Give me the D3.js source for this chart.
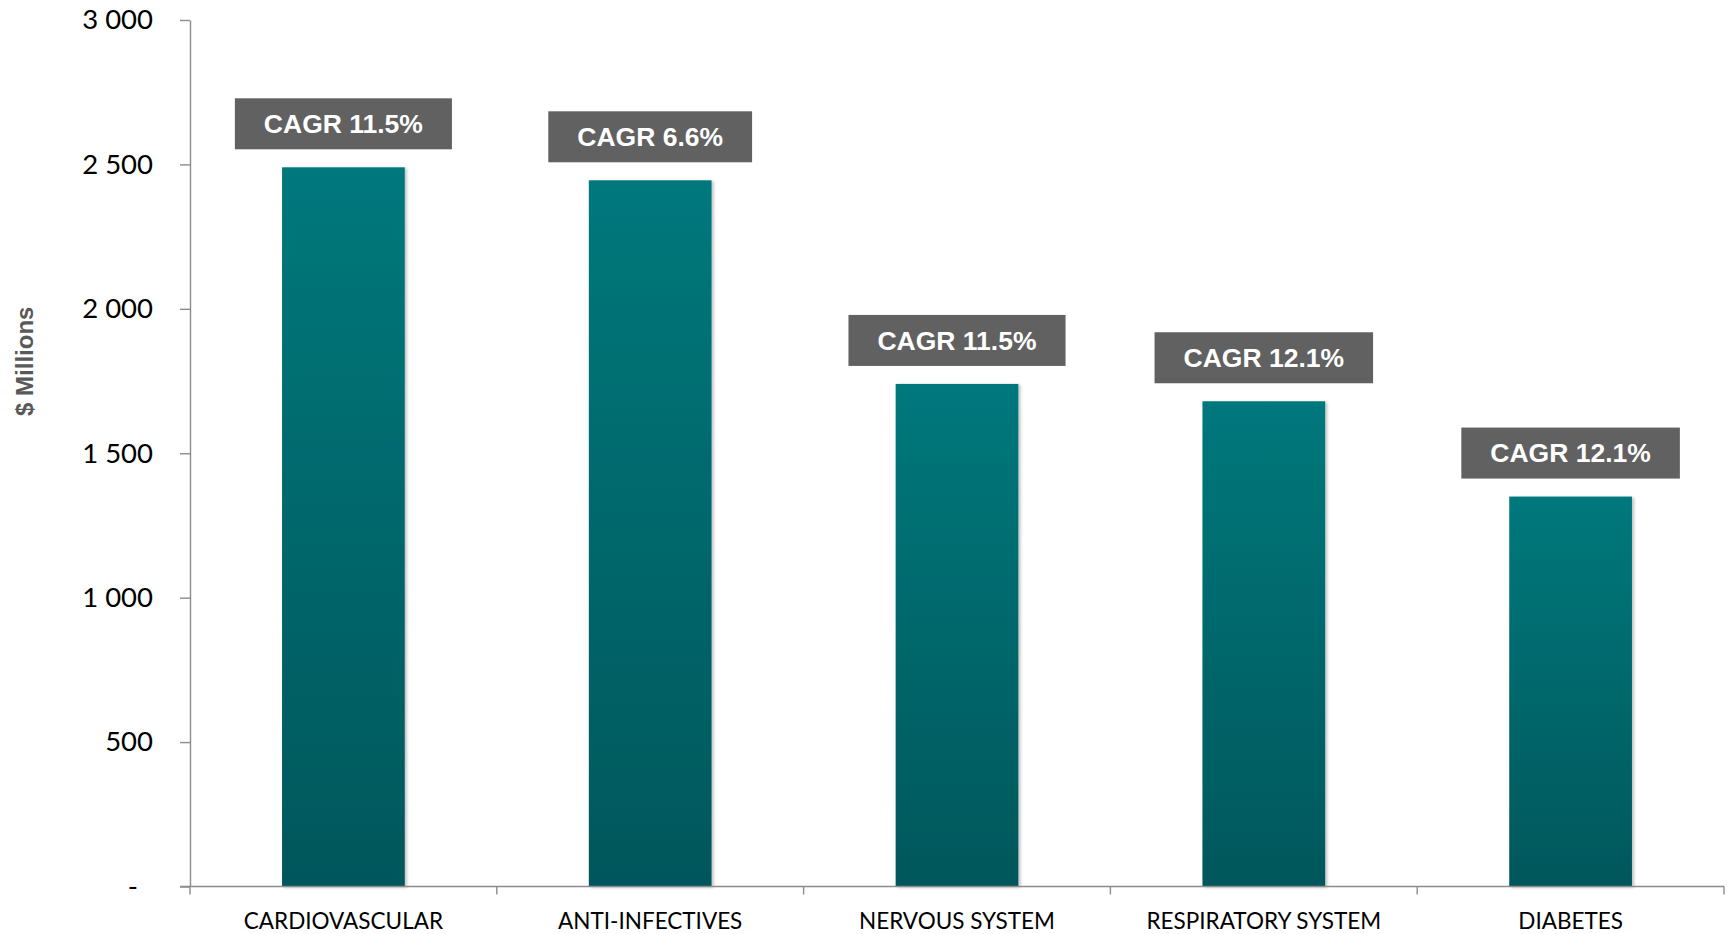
<!DOCTYPE html>
<html>
<head>
<meta charset="utf-8">
<script src="https://cdn.jsdelivr.net/npm/d3@7"></script>
<style>
  html, body { margin: 0; padding: 0; background: #ffffff; }
  svg { display: block; }
</style>
</head>
<body>
<svg id="chart" width="1731" height="934"></svg>
<script>
// Therapy-area market size ($ millions) with growth rates
const categories = ["CARDIOVASCULAR", "ANTI-INFECTIVES", "NERVOUS SYSTEM", "RESPIRATORY SYSTEM", "DIABETES"];
const values = [2490, 2445, 1740, 1680, 1350];
const cagrLabels = ["CAGR 11.5%", "CAGR 6.6%", "CAGR 11.5%", "CAGR 12.1%", "CAGR 12.1%"];
const yTicks = [0, 500, 1000, 1500, 2000, 2500, 3000];
const yTitle = "$ Millions";

const W = 1731, H = 934;
const margin = { top: 20, right: 7, bottom: 47.5, left: 190 };
const axisColor = "#8c8c8c";

const svg = d3.select("#chart");

const x = d3.scaleBand()
  .domain(categories)
  .range([margin.left, W - margin.right])
  .paddingInner(0.6)
  .paddingOuter(0.3);

const y = d3.scaleLinear()
  .domain([0, 3000])
  .range([H - margin.bottom, margin.top]);

// Vertical teal gradient used by every bar
const defs = svg.append("defs");
const grad = defs.append("linearGradient")
  .attr("id", "barFill")
  .attr("x1", 0).attr("y1", 0).attr("x2", 0).attr("y2", 1);
grad.append("stop").attr("offset", "0%").attr("stop-color", "#00787c");
grad.append("stop").attr("offset", "100%").attr("stop-color", "#00575b");

const shadow = defs.append("filter")
  .attr("id", "barShadow")
  .attr("x", "-10%").attr("y", "-10%").attr("width", "130%").attr("height", "130%");
shadow.append("feDropShadow")
  .attr("dx", 2).attr("dy", 1).attr("stdDeviation", 1.5)
  .attr("flood-color", "#000").attr("flood-opacity", 0.25);

// Bars
svg.append("g")
  .selectAll("rect")
  .data(categories)
  .join("rect")
  .attr("x", d => x(d))
  .attr("y", (d, i) => y(values[i]))
  .attr("width", x.bandwidth())
  .attr("height", (d, i) => y(0) - y(values[i]))
  .attr("fill", "url(#barFill)")
  .attr("filter", "url(#barShadow)");

// Y axis
const fmt = d3.formatLocale({ decimal: ".", thousands: " ", grouping: [3], currency: ["", ""] }).format(",d");
const yAxis = svg.append("g")
  .attr("transform", `translate(${margin.left},0)`)
  .call(d3.axisLeft(y)
    .tickValues(yTicks)
    .tickSize(10)
    .tickSizeOuter(0)
    .tickPadding(27)
    .tickFormat(d => d === 0 ? "-" : fmt(d)));
yAxis.select(".domain").attr("stroke", axisColor).attr("stroke-width", 1.4);
yAxis.selectAll(".tick line").attr("stroke", axisColor).attr("stroke-width", 1.4);
yAxis.selectAll(".tick text")
  .attr("fill", "#000")
  .style("font-family", "Lato, 'Open Sans', sans-serif")
  .style("font-size", "27.5px")
  .attr("dx", d => d === 0 ? -15 : 0);

// X axis: baseline, boundary ticks and category labels
const xAxis = svg.append("g")
  .attr("transform", `translate(0,${y(0)})`)
  .call(d3.axisBottom(x).tickSize(0).tickPadding(27));
xAxis.select(".domain").remove();
xAxis.selectAll(".tick text")
  .attr("fill", "#000")
  .style("font-family", "Lato, 'Open Sans', sans-serif")
  .style("font-size", "22.5px");

const [x0, x1] = x.range();
xAxis.append("line")
  .attr("x1", x0 - 10).attr("x2", x1)
  .attr("y1", 0).attr("y2", 0)
  .attr("stroke", axisColor).attr("stroke-width", 1.4);
xAxis.selectAll(".bound")
  .data(d3.range(categories.length + 1))
  .join("line")
  .attr("class", "bound")
  .attr("x1", i => x0 + i * x.step())
  .attr("x2", i => x0 + i * x.step())
  .attr("y1", 0).attr("y2", 8)
  .attr("stroke", axisColor).attr("stroke-width", 1.4);

// Y axis title
svg.append("text")
  .attr("transform", `translate(33,${(margin.top + H - margin.bottom) / 2 - 92}) rotate(-90)`)
  .attr("text-anchor", "middle")
  .attr("fill", "#595959")
  .style("font-family", "'Liberation Sans', Arial, sans-serif")
  .style("font-weight", "bold")
  .style("font-size", "24px")
  .text(yTitle);

// CAGR call-out boxes above each bar
const labelGroup = svg.append("g");
const boxH = 51, gap = 18, padX = 29;
categories.forEach((c, i) => {
  const cx = x(c) + x.bandwidth() / 2;
  const bottom = y(values[i]) - gap;
  const g = labelGroup.append("g");
  const t = g.append("text")
    .attr("x", cx)
    .attr("y", bottom - boxH / 2)
    .attr("dy", "0.35em")
    .attr("text-anchor", "middle")
    .attr("fill", "#ffffff")
    .style("font-family", "'Liberation Sans', Arial, sans-serif")
    .style("font-weight", "bold")
    .style("font-size", "26.5px")
    .text(cagrLabels[i]);
  const w = t.node().getComputedTextLength() + padX * 2;
  g.insert("rect", "text")
    .attr("x", cx - w / 2)
    .attr("y", bottom - boxH)
    .attr("width", w)
    .attr("height", boxH)
    .attr("fill", "#616161");
});
</script>
</body>
</html>
